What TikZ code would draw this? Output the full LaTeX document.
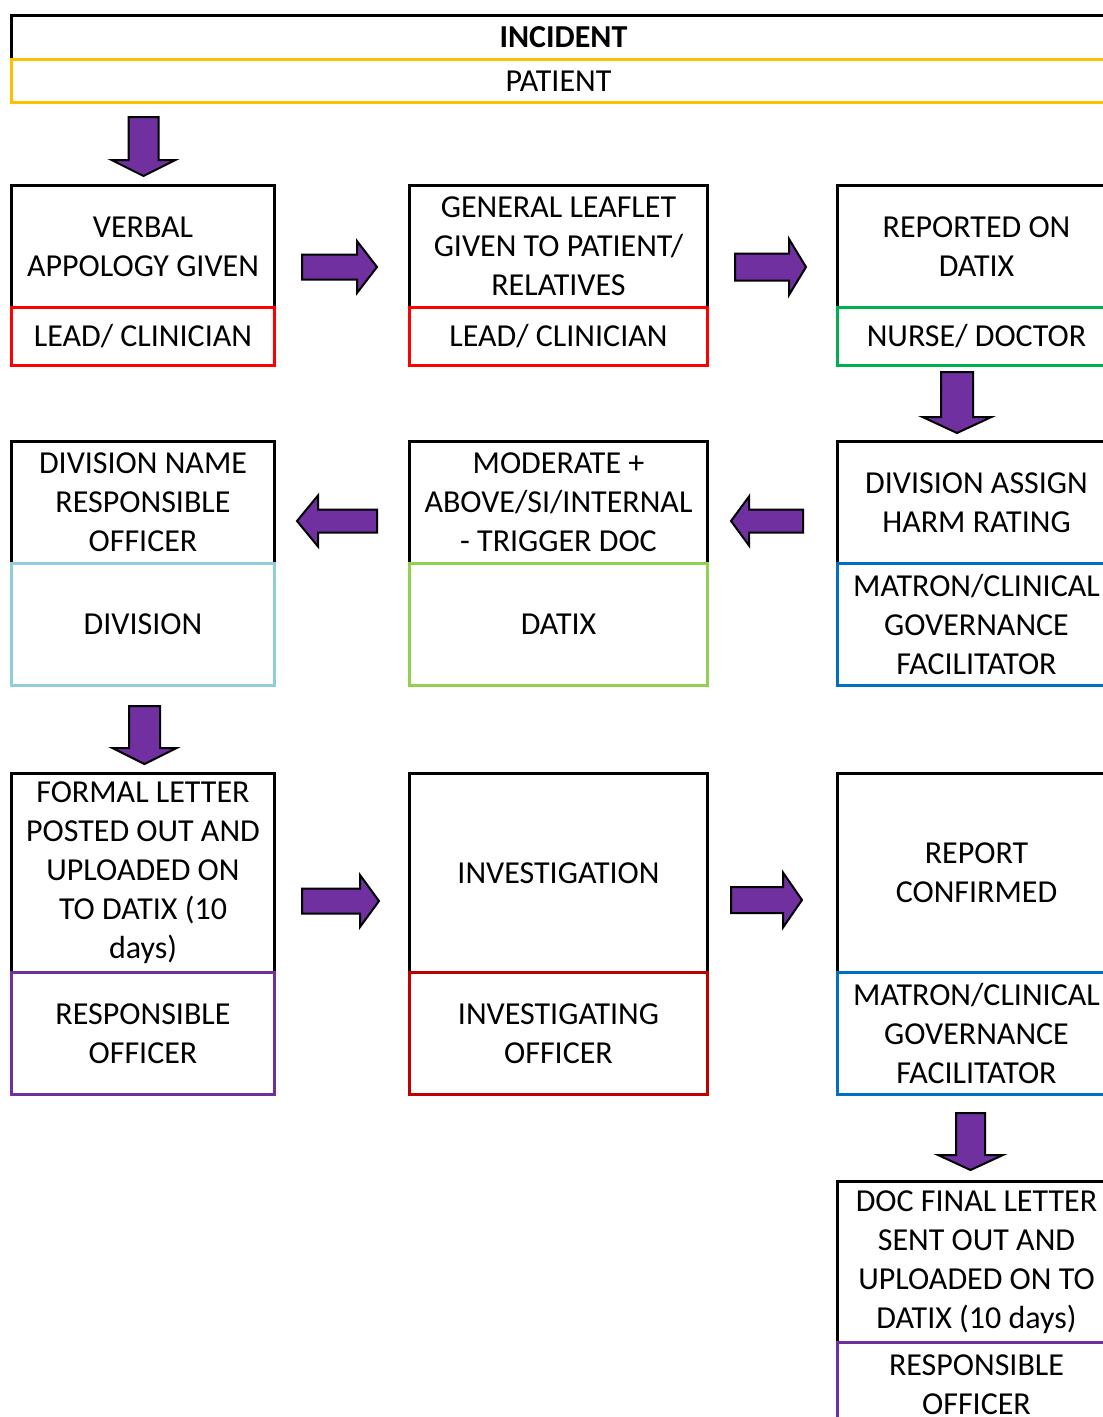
\documentclass[tikz,border=0pt]{standalone}
\usepackage{fontspec}
\setmainfont{Carlito}
\usetikzlibrary{calc}
\definecolor{cyellow}{HTML}{FFC000}
\definecolor{cred}{HTML}{FF0000}
\definecolor{cdarkred}{HTML}{C00000}
\definecolor{cgreen}{HTML}{00B050}
\definecolor{clightgreen}{HTML}{92D050}
\definecolor{clightblue}{HTML}{92CDDC}
\definecolor{cblue}{HTML}{0070C0}
\definecolor{cpurple}{HTML}{7030A0}
\tikzset{
  cell/.style={draw=black, line width=3pt, rectangle, inner sep=0pt, align=center,
    anchor=north west, font=\fontsize{32}{39}\selectfont},
  barrow/.style={draw=black, fill=cpurple, line width=2pt, line join=miter},
}
% #1 tail, #2 tip, #3 shaft half width, #4 head half width, #5 head length
\newcommand\blockarrow[5]{%
  \coordinate (ba-h) at ($(#2)!#5!(#1)$);
  \draw[barrow] ($(#1)!#3!90:(#2)$) -- ($(ba-h)!#3!90:(#2)$) -- ($(ba-h)!#4!90:(#2)$)
    -- (#2) -- ($(ba-h)!#4!-90:(#2)$) -- ($(ba-h)!#3!-90:(#2)$) -- ($(#1)!#3!-90:(#2)$) -- cycle;
}
\begin{document}
\begin{tikzpicture}[x=1pt, y=-1pt]
\useasboundingbox (0,0) rectangle (1103,1417);
\clip (0,0) rectangle (1103,1417);
\fill[white] (0,0) rectangle (1103,1417);

% header
\node[cell, minimum width=1104pt, minimum height=44pt, font=\fontsize{32}{39}\selectfont\bfseries] (inc) at (10,14) {INCIDENT};
\node[cell, draw=cyellow, minimum width=1104pt, minimum height=43pt] (pat) at (10,58) {PATIENT\hspace*{10pt}};

% row 1
\node[cell, minimum width=263pt, minimum height=122pt] (A) at (10,184) {VERBAL\\APPOLOGY GIVEN};
\node[cell, draw=cred, minimum width=263pt, minimum height=58pt] (Ab) at (10,306) {LEAD/ CLINICIAN};
\node[cell, minimum width=298pt, minimum height=122pt] (B) at (408,184) {GENERAL LEAFLET\\GIVEN TO PATIENT/\\RELATIVES};
\node[cell, draw=cred, minimum width=298pt, minimum height=58pt] (Bb) at (408,306) {LEAD/ CLINICIAN};
\node[cell, minimum width=278pt, minimum height=122pt] (C) at (836,184) {REPORTED ON\\DATIX};
\node[cell, draw=cgreen, minimum width=278pt, minimum height=58pt] (Cb) at (836,306) {NURSE/ DOCTOR};

% row 2
\node[cell, minimum width=263pt, minimum height=122pt] (D) at (10,440) {DIVISION NAME\\RESPONSIBLE\\OFFICER};
\node[cell, draw=clightblue, minimum width=263pt, minimum height=122pt] (Db) at (10,562) {DIVISION};
\node[cell, minimum width=298pt, minimum height=122pt] (E) at (408,440) {MODERATE +\\ABOVE/SI/INTERNAL\\- TRIGGER DOC};
\node[cell, draw=clightgreen, minimum width=298pt, minimum height=122pt] (Eb) at (408,562) {DATIX};
\node[cell, minimum width=278pt, minimum height=122pt] (F) at (836,440) {DIVISION ASSIGN\\HARM RATING};
\node[cell, draw=cblue, minimum width=278pt, minimum height=122pt] (Fb) at (836,562) {MATRON/CLINICAL\\GOVERNANCE\\FACILITATOR};

% row 3
\node[cell, minimum width=263pt, minimum height=199pt] (G) at (10,772) {FORMAL LETTER\\POSTED OUT AND\\UPLOADED ON\\TO DATIX (10\\days)};
\node[cell, draw=cpurple, minimum width=263pt, minimum height=122pt] (Gb) at (10,971) {RESPONSIBLE\\OFFICER};
\node[cell, minimum width=298pt, minimum height=199pt] (H) at (408,772) {INVESTIGATION};
\node[cell, draw=cdarkred, minimum width=298pt, minimum height=122pt] (Hb) at (408,971) {INVESTIGATING\\OFFICER};
\node[cell, minimum width=278pt, minimum height=199pt] (I) at (836,772) {REPORT\\CONFIRMED};
\node[cell, draw=cblue, minimum width=278pt, minimum height=122pt] (Ib) at (836,971) {MATRON/CLINICAL\\GOVERNANCE\\FACILITATOR};

% row 4
\node[cell, minimum width=278pt, minimum height=161pt] (J) at (836,1180) {DOC FINAL LETTER\\SENT OUT AND\\UPLOADED ON TO\\DATIX (10 days)};
\node[cell, draw=cpurple, minimum width=278pt, minimum height=85pt] (Jb) at (836,1341) {RESPONSIBLE\\OFFICER};

% arrow end points
\coordinate (a1t) at (143.5,117);  \coordinate (a1h) at (143.5,176);
\coordinate (a2t) at (302,267);    \coordinate (a2h) at (377,267);
\coordinate (a3t) at (735,267);    \coordinate (a3h) at (806,267);
\coordinate (a4t) at (957,372);    \coordinate (a4h) at (957,433);
\coordinate (a5t) at (803,521);    \coordinate (a5h) at (731,521);
\coordinate (a6t) at (377,521);    \coordinate (a6h) at (297,521);
\coordinate (a7t) at (144.5,706);  \coordinate (a7h) at (144.5,764);
\coordinate (a8t) at (302,901);    \coordinate (a8h) at (379,901);
\coordinate (a9t) at (731,900);    \coordinate (a9h) at (802,900);
\coordinate (a10t) at (970.5,1113); \coordinate (a10h) at (970.5,1170);

\blockarrow{a1t}{a1h}{15pt}{32pt}{16pt}
\blockarrow{a2t}{a2h}{12.5pt}{26pt}{20pt}
\blockarrow{a3t}{a3h}{13.5pt}{28pt}{17pt}
\blockarrow{a4t}{a4h}{16pt}{34.5pt}{16pt}
\blockarrow{a5t}{a5h}{11.5pt}{24.5pt}{18pt}
\blockarrow{a6t}{a6h}{11.5pt}{25.5pt}{21pt}
\blockarrow{a7t}{a7h}{15.5pt}{32pt}{16pt}
\blockarrow{a8t}{a8h}{12.5pt}{26pt}{19pt}
\blockarrow{a9t}{a9h}{13pt}{27.5pt}{19pt}
\blockarrow{a10t}{a10h}{14.5pt}{32.5pt}{15pt}
\end{tikzpicture}
\end{document}
